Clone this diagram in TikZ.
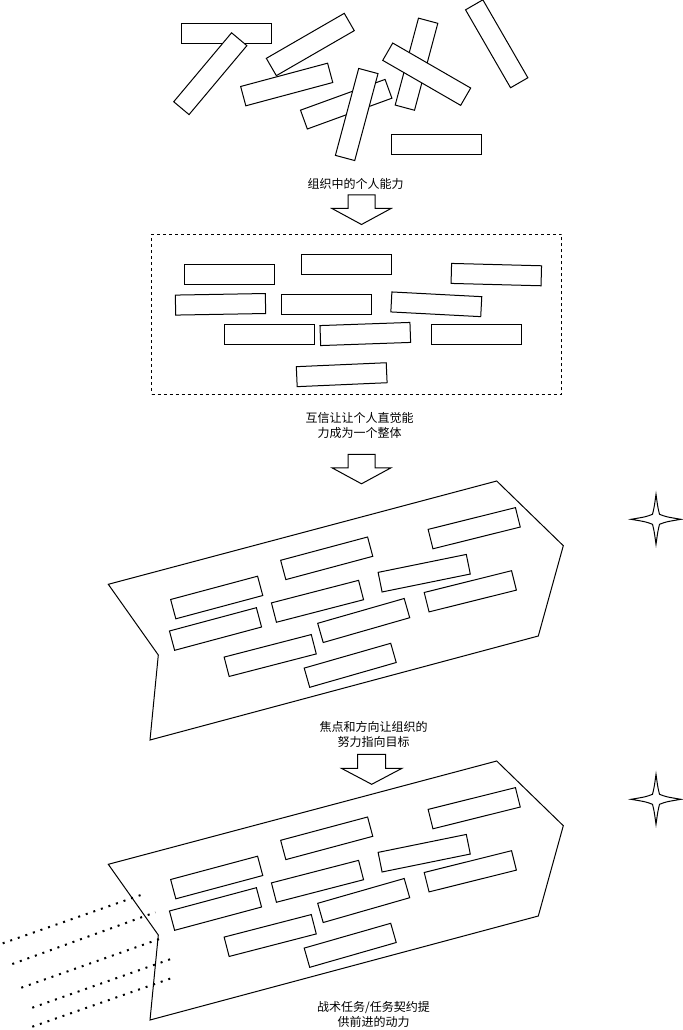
\documentclass[tikz,border=0pt]{standalone}
\usepackage{fontspec}
\newfontfamily\cjk{Noto Sans CJK SC}
\usetikzlibrary{calc}

\begin{document}
\begin{tikzpicture}[x=0.75pt,y=-0.75pt,line width=0.75pt,
	brick/.style={draw,fill=white,minimum width=67.5pt,minimum height=15pt,inner sep=0pt},
	frame/.style={draw,dash pattern=on 2.25pt off 2.25pt,minimum width=307.5pt,minimum height=120pt,inner sep=0pt},
	caption/.style={font=\cjk\fontsize{9pt}{11.25pt}\selectfont,align=center,inner sep=0pt},
	trail/.style={line width=1.5pt,dash pattern=on 1.5pt off 4.5pt}]

	\useasboundingbox (0,0) rectangle (682,1030);

	% loose pieces
	\node (A1)[brick] at (226,34){};
	\node (A2)[brick,rotate=50] at (210.3,73.7){};
	\node (A3)[brick,rotate=30] at (310.3,44.5){};
	\node (A4)[brick,rotate=15] at (286.7,84.5){};
	\node (A5)[brick,rotate=20] at (346.2,104.2){};
	\node (A6)[brick,rotate=75] at (356.7,114.5){};
	\node (A7)[brick,rotate=75] at (416.5,64.2){};
	\node (A8)[brick,rotate=-30] at (426.7,74.2){};
	\node (A9)[brick,rotate=-60] at (496.7,43.8){};
	\node (A10)[brick] at (436.3,144.3){};

	\node (T1)[caption] at (355.5,184){组织中的个人能力};
	\draw [shift={(361.5,195)}] (-13.5,0) -- (13.5,0) -- (13.5,13.5) -- (29.5,13.5) -- (0,29.5) -- (-29.5,13.5) -- (-13.5,13.5) -- cycle;

	% trust
	\node (F1)[frame] at (356.7,314.3){};
	\node (B1)[brick] at (229.3,274.3){};
	\node (B2)[brick] at (346.3,264.3){};
	\node (B3)[brick,rotate=-1.5] at (496.3,274.6){};
	\node (B4)[brick,rotate=1] at (220.5,304.3){};
	\node (B5)[brick] at (326.3,304.3){};
	\node (B6)[brick,rotate=-3] at (436.3,304.3){};
	\node (B7)[brick] at (269.3,334.3){};
	\node (B8)[brick,rotate=2] at (365.3,334){};
	\node (B9)[brick] at (476.3,334.3){};
	\node (B10)[brick,rotate=2.5] at (341.7,374.7){};

	\node (T2)[caption] at (359.5,425.7){互信让让个人直觉能\\力成为一个整体};
	\draw [shift={(361.5,454.3)}] (-13.5,0) -- (13.5,0) -- (13.5,13.5) -- (29.5,13.5) -- (0,29.5) -- (-29.5,13.5) -- (-13.5,13.5) -- cycle;

	% focus and direction
	\draw (108.3,584.3) -- (496.7,481) -- (563.3,545.7) -- (538.3,636) -- (150,740) -- (158.3,655) -- cycle;
	\node (C1)[brick,rotate=15] at (216.7,597.5){};
	\node (C2)[brick,rotate=15] at (326.7,558.3){};
	\node (C3)[brick,rotate=14] at (474.2,528.2){};
	\node (C4)[brick,rotate=14.5] at (317.5,601.3){};
	\node (C5)[brick,rotate=11.5] at (424.2,573.2){};
	\node (C6)[brick,rotate=14] at (470.3,591.3){};
	\node (C7)[brick,rotate=15] at (215.5,629){};
	\node (C8)[brick,rotate=16] at (363.7,620.5){};
	\node (C9)[brick,rotate=14.5] at (270.2,655.5){};
	\node (C10)[brick,rotate=16] at (350.2,665.3){};
	\draw [shift={(656,519.3)}] (0,-25) .. controls (1.8,-12) .. (3.5,-5) .. controls (10,-2.5) .. (25,0) .. controls (10,2.5) .. (3.5,5) .. controls (1.8,12) .. (0,25) .. controls (-1.8,12) .. (-3.5,5) .. controls (-10,2.5) .. (-25,0) .. controls (-10,-2.5) .. (-3.5,-5) .. controls (-1.8,-12) .. (0,-25) -- cycle;

	\node (T3)[caption] at (373.7,734.5){焦点和方向让组织的\\努力指向目标};
	\draw [shift={(371.7,754.3)}] (-14,0) -- (14,0) -- (14,14) -- (30.3,14) -- (0,30) -- (-30.3,14) -- (-14,14) -- cycle;

	% mission command
	\draw (108.3,864.3) -- (496.7,761) -- (563.3,825.7) -- (538.3,916) -- (150,1020) -- (158.3,935) -- cycle;
	\node (D1)[brick,rotate=15] at (216.7,877.5){};
	\node (D2)[brick,rotate=15] at (326.7,838.3){};
	\node (D3)[brick,rotate=14] at (474.2,808.2){};
	\node (D4)[brick,rotate=14.5] at (317.5,881.3){};
	\node (D5)[brick,rotate=11.5] at (424.2,853.2){};
	\node (D6)[brick,rotate=14] at (470.3,871.3){};
	\node (D7)[brick,rotate=15] at (215.5,909){};
	\node (D8)[brick,rotate=16] at (363.7,900.5){};
	\node (D9)[brick,rotate=14.5] at (270.2,935.5){};
	\node (D10)[brick,rotate=16] at (350.2,945.3){};
	\draw [shift={(656,799.3)}] (0,-25) .. controls (1.8,-12) .. (3.5,-5) .. controls (10,-2.5) .. (25,0) .. controls (10,2.5) .. (3.5,5) .. controls (1.8,12) .. (0,25) .. controls (-1.8,12) .. (-3.5,5) .. controls (-10,2.5) .. (-25,0) .. controls (-10,-2.5) .. (-3.5,-5) .. controls (-1.8,-12) .. (0,-25) -- cycle;

	\draw [trail] (2.7,943.3) -- (145.7,893.3);
	\draw [trail] (12.3,964) -- (155.3,912.3);
	\draw [trail] (21.3,987.7) -- (164.3,937.3);
	\draw [trail] (32.3,1007.7) -- (175.7,957.3);
	\draw [trail] (32.3,1026.7) -- (175.7,976.7);

	\node (T4)[caption] at (373.5,1014.7){战术任务/任务契约提\\供前进的动力};

\end{tikzpicture}
\end{document}
